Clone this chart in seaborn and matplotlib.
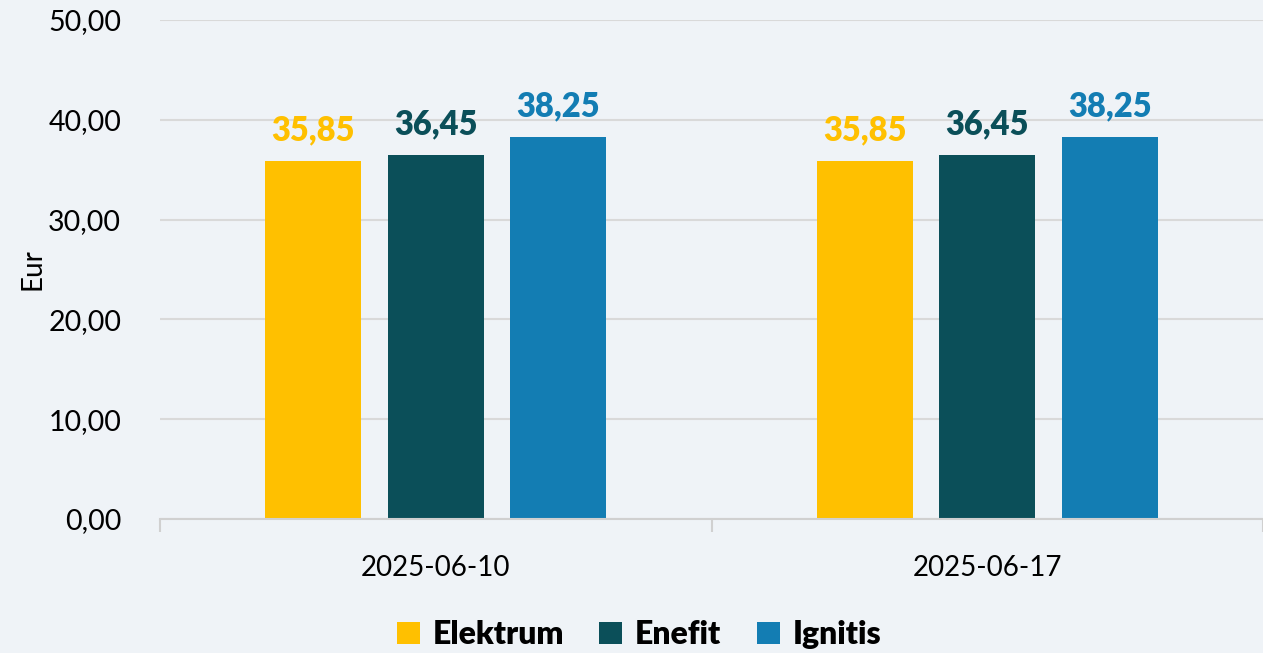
import matplotlib
matplotlib.use("Agg")
import matplotlib.pyplot as plt
from matplotlib.ticker import FuncFormatter, FixedLocator
from matplotlib.patches import Patch
import seaborn as sns
import pandas as pd

dates = ["2025-06-10", "2025-06-17"]
companies = ["Elektrum", "Enefit", "Ignitis"]
elektrum = [35.85, 35.85]
enefit = [36.45, 36.45]
ignitis = [38.25, 38.25]
colors = {"Elektrum": "#FFC000", "Enefit": "#0B4F59", "Ignitis": "#137DB3"}

rows = []
for comp, vals in zip(companies, [elektrum, enefit, ignitis]):
    for d, v in zip(dates, vals):
        rows.append({"date": d, "company": comp, "value": v})
df = pd.DataFrame(rows)

bg = "#EFF3F7"
sns.set_theme(style="white")
plt.rcParams["font.family"] = ["Lato", "DejaVu Sans"]
plt.rcParams["text.color"] = "black"

fig = plt.figure(figsize=(12.63, 6.53), dpi=100, facecolor=bg)
ax = fig.add_axes([0.1267, 0.2052, 0.8733, 0.7642])
ax.set_facecolor(bg)

sns.barplot(data=df, x="date", y="value", hue="company", order=dates,
            hue_order=companies, palette=colors, width=0.666, gap=0.216,
            saturation=1, ax=ax, legend=False, errorbar=None,
            linewidth=0, edgecolor="none")

fmt = lambda v: f"{v:.2f}".replace(".", ",")
for cont, comp in zip(ax.containers, companies):
    ax.bar_label(cont, labels=[fmt(b.get_height()) for b in cont],
                 padding=11, color=colors[comp], fontsize=23.5, fontweight="heavy")

ax.set_ylim(0, 50)
ax.set_yticks([0, 10, 20, 30, 40, 50])
ax.yaxis.set_major_formatter(FuncFormatter(lambda v, p: fmt(v)))
ax.grid(axis="y", color="#D9D9D9", linewidth=1.5)
ax.set_axisbelow(True)
ax.set_xlim(-0.5, 1.5)

for s in ["top", "right", "left"]:
    ax.spines[s].set_visible(False)
ax.spines["bottom"].set_color("#D0D0D0")
ax.spines["bottom"].set_linewidth(1.5)

ax.tick_params(axis="y", length=0, labelsize=20.5, labelcolor="black", pad=28)
ax.tick_params(axis="x", which="major", length=0, labelsize=20, labelcolor="black", pad=26)
ax.xaxis.set_minor_locator(FixedLocator([-0.5, 0.5, 1.5]))
ax.tick_params(axis="x", which="minor", length=9, width=1.5, color="#D0D0D0", bottom=True)

ax.set_xlabel("")
ax.set_ylabel("Eur", fontsize=20, color="black", labelpad=2)

handles = [Patch(facecolor=colors[c], edgecolor="none", label=c) for c in companies]
fig.legend(handles=handles, loc="center", bbox_to_anchor=(0.506, 0.028), ncol=3,
           frameon=False, handlelength=0.72, handleheight=0.72, handletextpad=0.4,
           columnspacing=1.1, labelcolor="black", prop={"size": 23, "weight": "heavy"})

fig.savefig("out.png", dpi=100, facecolor=bg)
